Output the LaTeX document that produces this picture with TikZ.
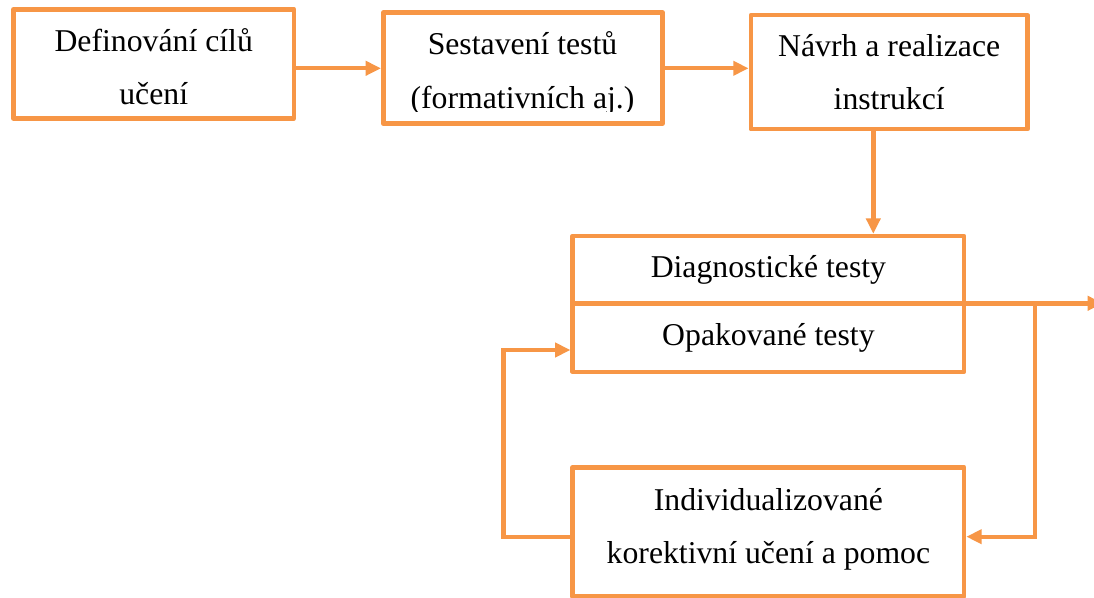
\documentclass[tikz,border=0pt]{standalone}
\usepackage{fontspec}
\setmainfont{Liberation Serif}
\usetikzlibrary{arrows.meta}
\definecolor{orng}{RGB}{247,150,70}
\begin{document}
\begin{tikzpicture}[x=0.75pt,y=-0.75pt,
  box/.style={draw=orng, line width=3.4pt, line join=round, inner sep=0pt, fill=none},
  lbl/.style={anchor=base, inner sep=0pt, font=\fontsize{23.8}{28}\selectfont},
  conn/.style={draw=orng, line width=3.3pt, -{Triangle[length=11.5pt,width=10.5pt]}},
  plain/.style={draw=orng, line width=3.3pt}]
\clip (0,0) rectangle (1094,598);
\fill[white] (0,0) rectangle (1094,598);
% boxes
\node[box, minimum width=210.4pt, minimum height=81.75pt] (b1) at (153.7,63.8) {};
\node[box, minimum width=209.4pt, minimum height=83.4pt] (b2) at (522.9,68.1) {};
\node[box, minimum width=207.5pt, minimum height=85.5pt] (b3) at (889.2,72.2) {};
\node[box, minimum width=293.5pt, minimum height=101.8pt] (b4) at (768.4,303.9) {};
\node[box, minimum width=293.5pt, minimum height=97pt] (b5) at (768.4,532) {};
% texts
\node[lbl] (t1a) at (153.7,52) {Definování cílů};
\node[lbl] (t1b) at (153.7,105) {učení};
\begin{scope}
\clip (383,15) rectangle (663,112);
\node[lbl] (t2a) at (522.5,55) {Sestavení testů};
\node[lbl] (t2b) at (522.5,108.3) {(formativních aj.)};
\end{scope}
\node[lbl] (t3a) at (889.2,56.7) {Návrh a realizace};
\node[lbl] (t3b) at (889.2,110) {instrukcí};
\node[lbl] (t4a) at (768.4,277.7) {Diagnostické testy};
\node[lbl] (t4b) at (768.4,345) {Opakované testy};
\node[lbl] (t5a) at (768.4,510) {Individualizované};
\node[lbl] (t5b) at (768.4,563) {korektivní učení a pomoc};
% helper coordinates
\coordinate (ya) at (0,68.3);
\coordinate (xc) at (873.3,0);
\coordinate (dv) at (0,303.3);
\coordinate (out) at (1103,303.3);
\coordinate (rj) at (1034.7,303.3);
\coordinate (ly) at (0,536.7);
\coordinate (lx) at (503.3,350);
% connectors
\draw[conn] (b1.east |- ya) -- (b2.west |- ya);
\draw[conn] (b2.east |- ya) -- (b3.west |- ya);
\draw[conn] (b3.south -| xc) -- (b4.north -| xc);
\draw[plain] (b4.west |- dv) -- (b4.east |- dv);
\draw[conn] (b4.east |- dv) -- (out);
\draw[conn] (rj) |- (b5.east |- ly);
\draw[conn] (b5.west |- ly) -| (lx) -- (b4.west |- lx);
\end{tikzpicture}
\end{document}
